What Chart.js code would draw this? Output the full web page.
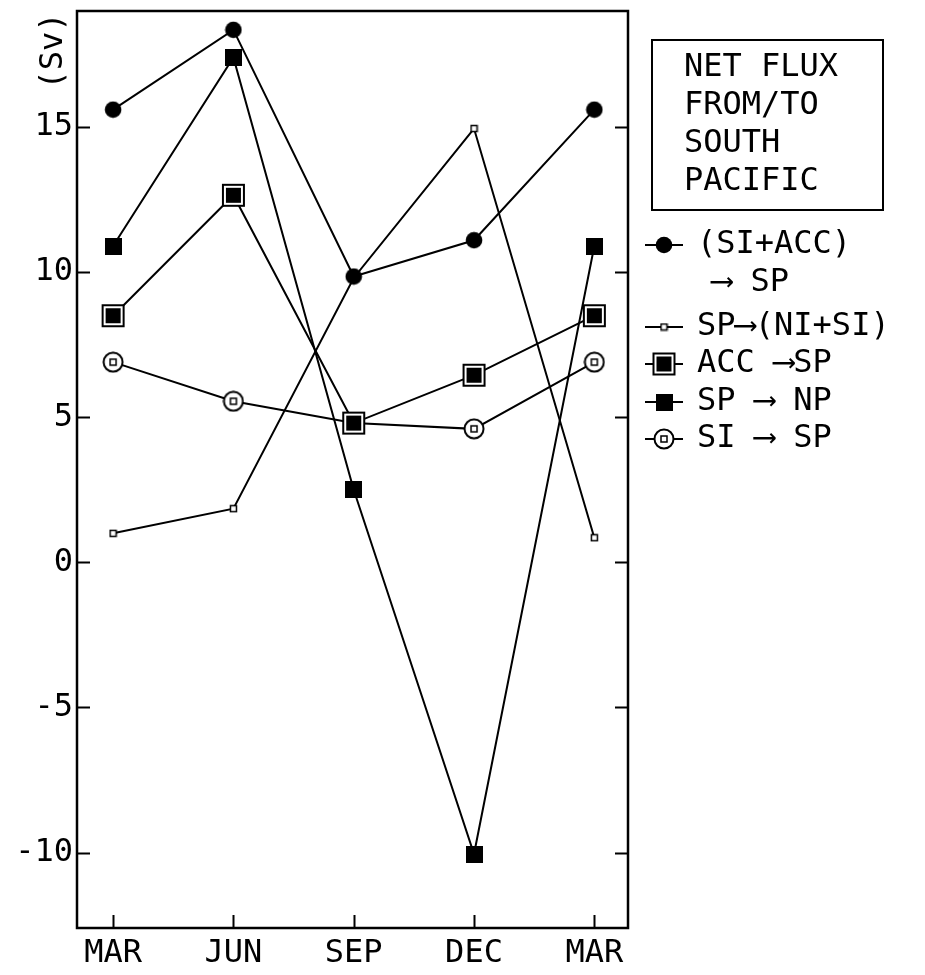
<!DOCTYPE html>
<html>
<head>
<meta charset="utf-8">
<script src="https://cdn.jsdelivr.net/npm/chart.js@4.4.1/dist/chart.umd.min.js"></script>
<style>
  html, body { margin: 0; padding: 0; background: #fff; }
  #wrap { width: 925px; height: 975px; }
</style>
</head>
<body>
<div id="wrap"><canvas id="c"></canvas></div>
<script>
// Seasonal net volume fluxes (Sv) into / out of the South Pacific
const months = ['MAR', 'JUN', 'SEP', 'DEC', 'MAR'];
const yTickValues = [-10, -5, 0, 5, 10, 15];

const siAccToSp = [15.6, 18.35, 9.85, 11.1, 15.6];
const spToNiSi  = [1.0, 1.85, 9.8, 14.95, 0.85];
const accToSp   = [8.5, 12.65, 4.8, 6.45, 8.5];
const spToNp    = [10.9, 17.4, 2.5, -10.05, 10.9];
const siToSp    = [6.9, 5.55, 4.8, 4.6, 6.9];

const titleLines = ['NET FLUX', 'FROM/TO', 'SOUTH', 'PACIFIC'];
const seriesLabels = [
  ['(SI+ACC)', '⟶ SP'],
  ['SP⟶(NI+SI)'],
  ['ACC ⟶SP'],
  ['SP ⟶ NP'],
  ['SI ⟶ SP']
];

const FONT = '"DejaVu Sans Mono", "DejaVu Sans", "Liberation Mono", monospace';
Chart.defaults.font.family = FONT;
Chart.defaults.color = '#000';

// Marker sprites
function sprite(w, h, paint) {
  const c = document.createElement('canvas');
  c.width = w; c.height = h;
  paint(c.getContext('2d'));
  return c;
}
const mFilledCircle = sprite(18, 18, g => {
  g.fillStyle = '#000'; g.beginPath(); g.arc(9, 9, 8.3, 0, Math.PI * 2); g.fill();
});
const mSmallSquare = sprite(9, 9, g => {
  g.fillStyle = '#fff'; g.fillRect(1, 1, 7, 7);
  g.strokeStyle = '#000'; g.lineWidth = 1.5; g.strokeRect(1.5, 1.5, 6, 6);
});
const mBoxedSquare = sprite(25, 25, g => {
  g.fillStyle = '#fff'; g.fillRect(1, 1, 23, 23);
  g.strokeStyle = '#000'; g.lineWidth = 2; g.strokeRect(2, 2, 21, 21);
  g.fillStyle = '#000'; g.fillRect(5, 5, 15, 15);
});
const mFilledSquare = sprite(17, 17, g => {
  g.fillStyle = '#000'; g.fillRect(0, 0, 17, 17);
});
const mCircleSquare = sprite(22, 22, g => {
  g.fillStyle = '#fff'; g.beginPath(); g.arc(11, 11, 9.5, 0, Math.PI * 2); g.fill();
  g.strokeStyle = '#000'; g.lineWidth = 2; g.stroke();
  g.lineWidth = 1.5; g.strokeRect(8, 8, 6, 6);
});
const markers = [mFilledCircle, mSmallSquare, mBoxedSquare, mFilledSquare, mCircleSquare];

function pts(arr) { return arr.map((v, i) => ({ x: i, y: v })); }
function series(label, arr, marker) {
  return {
    label, data: pts(arr),
    borderColor: '#000', borderWidth: 2,
    pointStyle: marker, pointRadius: 9, pointHoverRadius: 9,
    tension: 0, fill: false
  };
}

// Frame, inward ticks, axis title and the legend panel
const decorations = {
  id: 'decorations',
  afterDraw(chart) {
    const { ctx, chartArea: a, scales: { x, y } } = chart;
    ctx.save();
    ctx.strokeStyle = '#000';
    ctx.lineWidth = 2.5;
    ctx.strokeRect(a.left, a.top, a.right - a.left, a.bottom - a.top);

    ctx.lineWidth = 2;
    ctx.beginPath();
    yTickValues.forEach(v => {
      const py = Math.round(y.getPixelForValue(v)) + 0.5;
      ctx.moveTo(a.left, py); ctx.lineTo(a.left + 13, py);
      ctx.moveTo(a.right, py); ctx.lineTo(a.right - 13, py);
    });
    months.forEach((m, i) => {
      const px = Math.round(x.getPixelForValue(i)) + 0.5;
      ctx.moveTo(px, a.bottom); ctx.lineTo(px, a.bottom - 13);
    });
    ctx.stroke();

    ctx.fillStyle = '#000';
    ctx.font = '32px ' + FONT;

    // axis unit
    ctx.save();
    ctx.translate(54, 51);
    ctx.rotate(-Math.PI / 2);
    ctx.textAlign = 'center';
    ctx.textBaseline = 'middle';
    ctx.fillText('(Sv)', 0, 0);
    ctx.restore();

    // title box
    ctx.lineWidth = 2;
    ctx.strokeRect(652, 40, 231, 170);
    ctx.textAlign = 'left';
    ctx.textBaseline = 'middle';
    titleLines.forEach((t, i) => ctx.fillText(t, 684, 68 + i * 38));

    // series key
    const rows = [245, 327, 364, 402, 439];
    rows.forEach((ry, i) => {
      ctx.lineWidth = 2;
      ctx.beginPath();
      ctx.moveTo(645, ry); ctx.lineTo(683, ry);
      ctx.stroke();
      const m = markers[i];
      ctx.drawImage(m, 664 - m.width / 2, ry - m.height / 2);
      ctx.fillText(seriesLabels[i][0], 697, ry);
      if (seriesLabels[i][1]) ctx.fillText(seriesLabels[i][1], 712, ry + 38);
    });
    ctx.restore();
  }
};

new Chart(document.getElementById('c'), {
  type: 'line',
  data: {
    datasets: [
      series('(SI+ACC) → SP', siAccToSp, mFilledCircle),
      series('SP→(NI+SI)', spToNiSi, mSmallSquare),
      series('ACC →SP', accToSp, mBoxedSquare),
      series('SP → NP', spToNp, mFilledSquare),
      series('SI → SP', siToSp, mCircleSquare)
    ]
  },
  options: {
    responsive: true,
    maintainAspectRatio: false,
    animation: false,
    events: [],
    layout: { padding: { top: 9, right: 297, left: 0, bottom: 0 } },
    plugins: { legend: { display: false }, tooltip: { enabled: false } },
    scales: {
      x: {
        type: 'linear',
        min: -0.3, max: 4.28,
        afterBuildTicks: s => { s.ticks = months.map((m, i) => ({ value: i })); },
        afterFit: s => { s.height = 47; s.paddingLeft = 0; s.paddingRight = 0; },
        grid: { display: false, drawTicks: false },
        border: { display: false },
        ticks: {
          font: { size: 32 }, color: '#000', padding: 6,
          maxRotation: 0, autoSkip: false,
          callback: v => months[v]
        }
      },
      y: {
        type: 'linear',
        min: -12.6, max: 19,
        afterBuildTicks: s => { s.ticks = yTickValues.map(v => ({ value: v })); },
        afterFit: s => { s.width = 77; s.paddingTop = 0; s.paddingBottom = 0; },
        grid: { display: false, drawTicks: false },
        border: { display: false },
        ticks: { font: { size: 32 }, color: '#000', padding: 4 }
      }
    }
  },
  plugins: [decorations]
});
</script>
</body>
</html>
